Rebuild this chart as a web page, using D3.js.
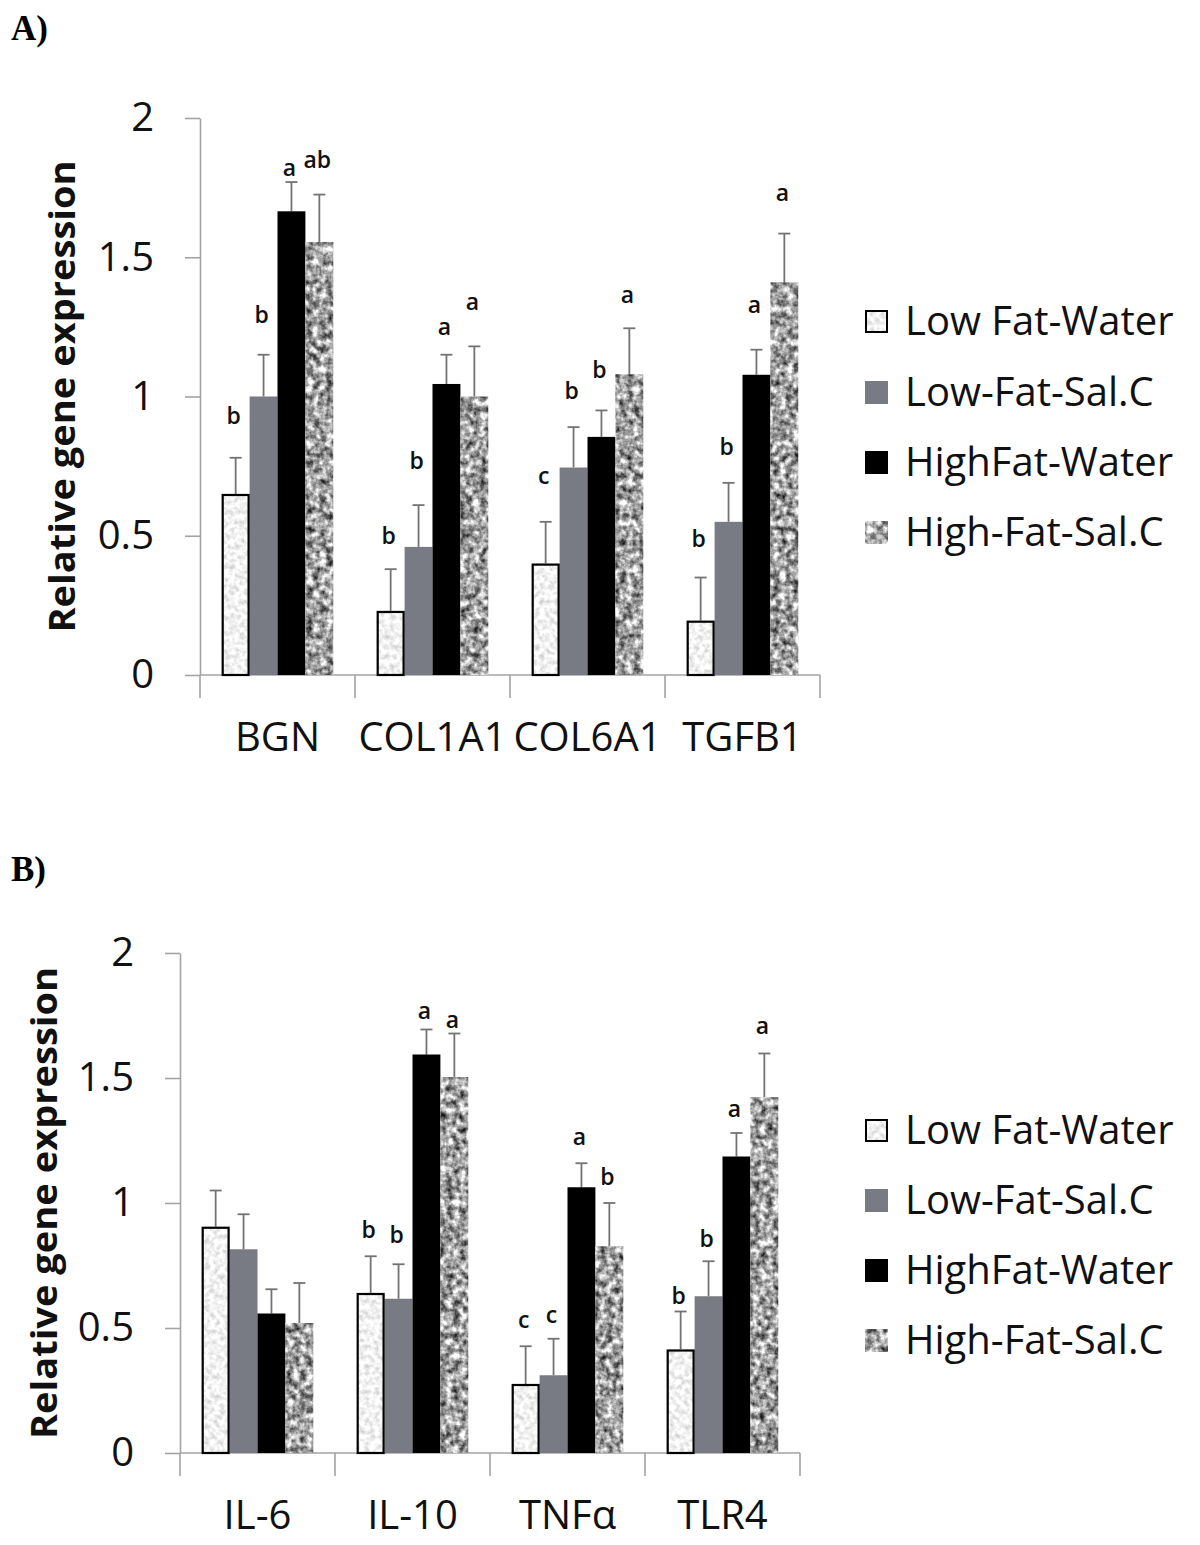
<!DOCTYPE html>
<html>
<head>
<meta charset="utf-8">
<script src="https://cdn.jsdelivr.net/npm/d3@7/dist/d3.min.js"></script>
<style>
  html, body { margin: 0; padding: 0; background: #ffffff; }
  svg { display: block; }
</style>
</head>
<body>
<div id="chart"></div>
<script>
// ---------------- DATA ----------------
const seriesNames = ["Low Fat-Water", "Low-Fat-Sal.C", "HighFat-Water", "High-Fat-Sal.C"];
const yTicks = [0, 0.5, 1, 1.5, 2];

// Panel A
const categoriesA = ["BGN", "COL1A1", "COL6A1", "TGFB1"];
const meansA = [
  [0.65, 1.00, 1.665, 1.555],
  [0.23, 0.46, 1.045, 1.00],
  [0.40, 0.745, 0.855, 1.08],
  [0.195, 0.55, 1.078, 1.41]
];
const errA = [
  [0.13, 0.15, 0.105, 0.17],
  [0.15, 0.15, 0.105, 0.18],
  [0.15, 0.145, 0.095, 0.165],
  [0.155, 0.14, 0.09, 0.175]
];
const lettersA = [
  ["b", "b", "a", "ab"],
  ["b", "b", "a", "a"],
  ["c", "b", "b", "a"],
  ["b", "b", "a", "a"]
];
const letterPosA = [
  [0.93, 1.295, 1.82, 1.85],
  [0.50, 0.77, 1.25, 1.34],
  [0.715, 1.02, 1.095, 1.365],
  [0.49, 0.82, 1.33, 1.73]
];

// Panel B
const categoriesB = ["IL-6", "IL-10", "TNFα", "TLR4"];
const meansB = [
  [0.905, 0.815, 0.558, 0.52],
  [0.64, 0.617, 1.594, 1.504],
  [0.276, 0.311, 1.063, 0.827],
  [0.414, 0.627, 1.186, 1.423]
];
const errB = [
  [0.145, 0.14, 0.097, 0.16],
  [0.147, 0.138, 0.10, 0.174],
  [0.151, 0.146, 0.096, 0.173],
  [0.152, 0.14, 0.094, 0.175]
];
const lettersB = [
  ["", "", "", ""],
  ["b", "b", "a", "a"],
  ["c", "c", "a", "b"],
  ["b", "b", "a", "a"]
];
const letterPosB = [
  [0, 0, 0, 0],
  [0.894, 0.873, 1.771, 1.733],
  [0.535, 0.555, 1.264, 1.104],
  [0.631, 0.859, 1.377, 1.709]
];

const yTitle = "Relative gene expression";

// ---------------- LAYOUT ----------------
const W = 1200, H = 1545;
const FONT = "'Open Sans', 'Noto Sans', sans-serif";

const svg = d3.select("#chart").append("svg")
  .attr("width", W).attr("height", H)
  .attr("viewBox", `0 0 ${W} ${H}`);
svg.append("rect").attr("width", W).attr("height", H).attr("fill", "#fff");

// texture filters
const defs = svg.append("defs");
function noiseFilter(id, freq, seed, octaves, k, b) {
  const f = defs.append("filter").attr("id", id)
    .attr("x", 0).attr("y", 0).attr("width", 1).attr("height", 1)
    .attr("color-interpolation-filters", "sRGB");
  f.append("feTurbulence").attr("type", "fractalNoise")
    .attr("baseFrequency", freq).attr("numOctaves", octaves).attr("seed", seed).attr("result", "n");
  f.append("feColorMatrix").attr("in", "n").attr("type", "matrix")
    .attr("values", `${k} 0 0 0 ${b}  ${k} 0 0 0 ${b}  ${k} 0 0 0 ${b}  0 0 0 0 1`)
    .attr("result", "g");
  f.append("feComposite").attr("in", "g").attr("in2", "SourceGraphic").attr("operator", "in");
}
noiseFilter("speckle", 0.2, 7, 2, 0.4, 0.75);
noiseFilter("granite", 0.15, 3, 3, 1.5, -0.12);

const seriesStyle = [
  { fill: "#f1f1f1", filter: "url(#speckle)", outline: true },
  { fill: "#787b83", filter: null, outline: false },
  { fill: "#000000", filter: null, outline: false },
  { fill: "#9a9a9a", filter: "url(#granite)", outline: false }
];

const panels = [
  {
    tag: "A)", tagY: 40,
    categories: categoriesA, means: meansA, err: errA, letters: lettersA, letterPos: letterPosA,
    left: 200, right: 820, top: 118, bottom: 675, titleX: 63,
    legendY: [321, 392, 462, 532]
  },
  {
    tag: "B)", tagY: 881,
    categories: categoriesB, means: meansB, err: errB, letters: lettersB, letterPos: letterPosB,
    left: 180, right: 800, top: 953, bottom: 1453, titleX: 45,
    legendY: [1130, 1200, 1270, 1340]
  }
];

const axisColor = "#a3a3a3";

panels.forEach(p => {
  const g = svg.append("g");

  // panel tag
  g.append("text").attr("x", 11).attr("y", p.tagY)
    .attr("font-family", "'Liberation Serif', 'Times New Roman', serif")
    .attr("font-weight", "bold").attr("font-size", 35).attr("fill", "#000")
    .text(p.tag);

  const y = d3.scaleLinear().domain([0, 2]).range([p.bottom, p.top]);
  const x0 = d3.scaleBand().domain(p.categories).range([p.left, p.right])
    .paddingInner(0.28).paddingOuter(0.14);
  const x1 = d3.scaleBand().domain(d3.range(seriesNames.length))
    .range([0, x0.bandwidth()]).padding(0);

  // y axis
  const yAxis = g.append("g").attr("transform", `translate(${p.left},0)`)
    .call(d3.axisLeft(y).tickValues(yTicks).tickSize(15).tickSizeOuter(0)
      .tickPadding(31).tickFormat(d3.format("~g")));
  yAxis.selectAll("path, line").attr("stroke", axisColor).attr("stroke-width", 1.6);
  yAxis.selectAll("text").attr("font-family", FONT).attr("font-size", 40).attr("fill", "#111");

  // x axis line
  g.append("line").attr("x1", p.left).attr("x2", p.right)
    .attr("y1", y(0)).attr("y2", y(0))
    .attr("stroke", axisColor).attr("stroke-width", 1.6);
  // category separators
  const step = x0.step();
  const seps = d3.range(p.categories.length + 1).map(i => p.left + i * step);
  g.selectAll(".sep").data(seps).join("line")
    .attr("x1", d => d).attr("x2", d => d)
    .attr("y1", y(0)).attr("y2", y(0) + 23)
    .attr("stroke", axisColor).attr("stroke-width", 1.6);

  // category labels
  const xAxis = g.append("g").attr("transform", `translate(0,${y(0)})`)
    .call(d3.axisBottom(x0).tickSize(0).tickPadding(48));
  xAxis.select(".domain").remove();
  xAxis.selectAll("text").attr("font-family", FONT).attr("font-size", 40).attr("fill", "#111");

  // y title
  const cy = (p.top + p.bottom) / 2;
  g.append("text")
    .attr("transform", `translate(${p.titleX + 12},${cy}) rotate(-90)`)
    .attr("text-anchor", "middle")
    .attr("font-family", FONT).attr("font-weight", "bold").attr("font-size", 35)
    .attr("textLength", 472).attr("lengthAdjust", "spacingAndGlyphs")
    .attr("fill", "#111")
    .text(yTitle);

  // bars
  const rows = [];
  p.categories.forEach((c, ci) => {
    seriesNames.forEach((s, si) => {
      rows.push({ c, ci, si, v: p.means[ci][si], e: p.err[ci][si],
        letter: p.letters[ci][si], lp: p.letterPos[ci][si] });
    });
  });

  const bx = d => x0(d.c) + x1(d.si);
  const bw = x1.bandwidth();

  g.selectAll(".err").data(rows).join("line")
    .attr("x1", d => bx(d) + bw / 2).attr("x2", d => bx(d) + bw / 2)
    .attr("y1", d => y(d.v)).attr("y2", d => y(d.v + d.e))
    .attr("stroke", "#737373").attr("stroke-width", 1.8);
  g.selectAll(".cap").data(rows).join("line")
    .attr("x1", d => bx(d) + bw / 2 - 6).attr("x2", d => bx(d) + bw / 2 + 6)
    .attr("y1", d => y(d.v + d.e)).attr("y2", d => y(d.v + d.e))
    .attr("stroke", "#737373").attr("stroke-width", 1.8);

  g.selectAll(".bar").data(rows).join("rect")
    .attr("x", d => bx(d)).attr("width", bw)
    .attr("y", d => y(d.v)).attr("height", d => y(0) - y(d.v))
    .attr("fill", d => seriesStyle[d.si].fill)
    .attr("filter", d => seriesStyle[d.si].filter);

  g.selectAll(".outline").data(rows.filter(d => seriesStyle[d.si].outline)).join("rect")
    .attr("x", d => bx(d) + 1).attr("width", bw - 2)
    .attr("y", d => y(d.v) + 1).attr("height", d => y(0) - y(d.v) - 1)
    .attr("fill", "none").attr("stroke", "#000").attr("stroke-width", 2.2);

  // significance letters
  g.selectAll(".letter").data(rows.filter(d => d.letter)).join("text")
    .attr("x", d => bx(d) + bw / 2 - 2).attr("y", d => y(d.lp))
    .attr("dy", "0.36em").attr("text-anchor", "middle")
    .attr("font-family", FONT).attr("font-size", 23).attr("font-weight", 600).attr("fill", "#111")
    .text(d => d.letter);

  // legend
  const lg = g.append("g");
  seriesNames.forEach((s, si) => {
    const ly = p.legendY[si];
    lg.append("rect").attr("x", 865).attr("y", ly - 11).attr("width", 23).attr("height", 23)
      .attr("fill", seriesStyle[si].fill).attr("filter", seriesStyle[si].filter);
    if (seriesStyle[si].outline) {
      lg.append("rect").attr("x", 866).attr("y", ly - 10).attr("width", 21).attr("height", 21)
        .attr("fill", "none").attr("stroke", "#000").attr("stroke-width", 2);
    }
    lg.append("text").attr("x", 905).attr("y", ly).attr("dy", "0.36em")
      .attr("font-family", FONT).attr("font-size", 40).attr("fill", "#111")
      .text(s);
  });
});
</script>
</body>
</html>
